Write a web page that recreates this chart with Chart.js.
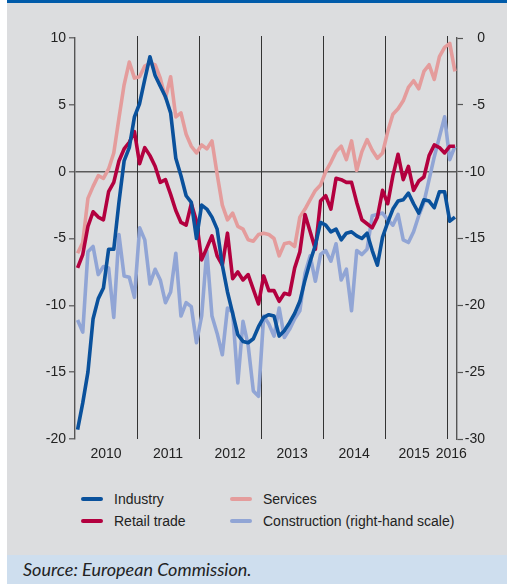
<!DOCTYPE html>
<html>
<head>
<meta charset="utf-8">
<script src="https://cdn.jsdelivr.net/npm/chart.js@4.4.1/dist/chart.umd.min.js"></script>
<style>
    html, body { margin: 0; padding: 0; background: #fff; }
    #page { position: relative; width: 507px; height: 584px; overflow: hidden; font-family: 'Liberation Sans', Arial, sans-serif; }
    #panel { position: absolute; left: 7px; top: 0; width: 500px; height: 555px; background: #dcdddf; border-top: 3px solid #005baa; box-sizing: border-box; }
    #wrap { position: absolute; left: 7px; top: 3px; width: 500px; height: 480px; }
    .item { position: absolute; font-size: 14px; color: #222; line-height: 16px; }
    .item i { position: absolute; left: -33px; top: 6px; width: 22px; height: 4px; border-radius: 2px; }
    #source { position: absolute; left: 7px; top: 555px; width: 500px; height: 29px; background: #cedeee; }
    #source span { position: absolute; left: 16px; top: 3px; font: italic 18px Lato, 'Open Sans', sans-serif; color: #222; }
</style>
</head>
<body>
<div id="page">
    <div id="panel"></div>
    <div id="wrap"><canvas id="grafico" width="500" height="480"></canvas></div>
    <div id="legenda"></div>
    <div id="source"><span>Source: European Commission.</span></div>
</div>
<script>
// monthly, Jan 2010 .. Feb 2016
const industry = [-19.3, -17.3, -15.0, -11.0, -9.5, -8.7, -5.8, -5.8, -2.3, 0.8, 1.8, 4.1,
    5.1, 6.9, 8.6, 7.2, 6.4, 5.6, 4.4, 1.0, -0.3, -1.8, -2.3, -5.0,
    -2.5, -2.8, -3.4, -4.3, -7.0, -9.0, -10.6, -12.2, -12.7, -12.8, -12.5, -11.6,
    -10.9, -10.7, -10.8, -12.3, -11.9, -11.3, -10.6, -9.7, -8.1, -6.7, -5.5, -3.8,
    -4.0, -4.5, -4.3, -5.1, -4.6, -4.5, -4.8, -5.0, -4.6, -5.9, -7.0, -4.9,
    -3.8, -2.8, -2.2, -2.1, -1.6, -2.4, -3.1, -2.1, -2.2, -2.7, -1.5, -1.5,
    -3.7, -3.4]

const retail = [-7.2, -6.2, -4.1, -3.0, -3.4, -3.6, -1.5, -0.8, 0.8, 1.7, 2.2, 3.0,
    0.6, 1.8, 1.2, 0.4, -0.8, -0.6, -1.7, -2.9, -3.8, -4.0, -2.4, -3.7,
    -6.6, -5.7, -4.8, -6.3, -7.0, -4.6, -8.0, -7.5, -8.1, -7.7, -8.8, -9.9,
    -7.8, -8.9, -8.9, -9.7, -9.1, -9.2, -7.2, -6.0, -3.2, -4.5, -5.8, -2.2,
    -1.8, -2.8, -0.5, -0.6, -0.8, -0.8, -2.3, -3.6, -3.9, -4.2, -3.4, -1.4,
    -2.4, -0.3, 1.3, -0.6, 0.4, -1.4, -0.7, -0.4, 1.2, 2.0, 1.8, 1.4,
    1.9, 1.9]

const services = [-6.1, -5.3, -2.0, -1.1, -0.3, -0.5, 0.2, 1.4, 4.0, 6.5, 8.2, 7.0,
    7.1, 7.9, 8.1, 8.0, 7.0, 5.5, 7.1, 4.1, 4.4, 2.8, 1.9, 1.4,
    2.0, 1.7, 2.3, -0.2, -2.5, -3.6, -3.1, -4.1, -4.3, -5.1, -5.2, -4.7,
    -4.6, -4.7, -5.0, -6.3, -5.4, -5.3, -5.6, -3.4, -2.8, -2.1, -1.4, -1.0,
    0.0, 0.7, 1.5, 1.9, 0.9, 2.3, 0.1, 1.5, 2.4, 1.6, 1.0, 1.4,
    3.0, 4.3, 4.7, 5.3, 6.3, 6.8, 6.2, 7.5, 8.0, 6.9, 8.6, 9.3,
    9.6, 7.5]

// right-hand scale
const construction = [-21.1, -22.0, -16.0, -15.6, -17.7, -17.1, -17.2, -20.9, -14.7, -17.8, -17.9, -19.4,
    -14.2, -15.1, -18.4, -17.3, -18.1, -19.8, -19.0, -16.1, -20.8, -19.8, -20.1, -22.8,
    -20.8, -15.9, -20.8, -22.1, -23.7, -20.2, -20.5, -25.8, -21.2, -23.0, -26.4, -26.8,
    -20.8, -21.4, -22.3, -20.2, -22.4, -21.8, -21.0, -20.4, -17.6, -16.3, -18.2, -16.2,
    -15.9, -16.7, -15.4, -18.1, -17.3, -20.4, -15.9, -16.2, -15.8, -13.3, -13.2, -13.1,
    -13.6, -14.0, -13.2, -15.1, -15.3, -14.5, -13.3, -12.3, -10.6, -8.9, -7.4, -5.9,
    -9.1, -8.1]

const years = ['2010', '2011', '2012', '2013', '2014', '2015', '2016']
const yearTicks = [6, 18, 30, 42, 54, 65.6, 72.8]
const yearLines = [12, 24, 36, 48, 60, 72]

const series = [
    { label: 'Industry', data: industry, cor: '#0a519c', eixo: 'y' },
    { label: 'Retail trade', data: retail, cor: '#b3003f', eixo: 'y' },
    { label: 'Services', data: services, cor: '#e49c9c', eixo: 'y' },
    { label: 'Construction (right-hand scale)', data: construction, cor: '#91a5d5', eixo: 'y1' }
]

Chart.defaults.font.family = "'Liberation Sans', Arial, sans-serif"
Chart.defaults.font.size = 14
Chart.defaults.color = '#222'

// vertical lines at the year boundaries
const linhasAno = {
    id: 'linhasAno',
    beforeDatasetsDraw(chart) {
        const { ctx, chartArea, scales } = chart
        ctx.save()
        ctx.strokeStyle = '#333'
        ctx.lineWidth = 1
        yearLines.forEach(v => {
            const x = Math.round(scales.x.getPixelForValue(v)) + 0.5
            ctx.beginPath()
            ctx.moveTo(x, chartArea.top - 2)
            ctx.lineTo(x, chartArea.bottom)
            ctx.stroke()
        })
        ctx.restore()
    }
}

new Chart(document.getElementById('grafico'), {
    type: 'line',
    data: {
        datasets: series.map(s => ({
            label: s.label,
            data: s.data.map((v, i) => ({ x: i + 0.5, y: v })),
            borderColor: s.cor,
            borderWidth: 3.6,
            pointRadius: 0,
            tension: 0,
            borderJoinStyle: 'round',
            yAxisID: s.eixo
        }))
    },
    options: {
        responsive: false,
        animation: false,
        devicePixelRatio: 1,
        layout: { padding: { top: 35, right: 22, left: 0, bottom: 0 } },
        plugins: { legend: { display: false }, tooltip: { enabled: false } },
        scales: {
            x: {
                type: 'linear',
                min: 0,
                max: 73.9,
                afterBuildTicks: axis => { axis.ticks = yearTicks.map(v => ({ value: v })) },
                afterFit: axis => { axis.height = 44 },
                ticks: {
                    autoSkip: false,
                    maxRotation: 0,
                    padding: 7,
                    color: '#222',
                    callback: (v, i) => years[i]
                },
                grid: { display: false, drawTicks: false },
                border: { display: false }
            },
            y: {
                position: 'left',
                min: -20,
                max: 10,
                afterFit: axis => { axis.width = 68 },
                ticks: { stepSize: 5, padding: 3, color: '#222' },
                grid: {
                    drawOnChartArea: true,
                    tickLength: 6,
                    tickColor: '#555',
                    tickWidth: 1.2,
                    color: c => c.tick && c.tick.value === 0 ? '#5a5a5a' : 'rgba(0,0,0,0)',
                    lineWidth: 1.6
                },
                border: { color: '#555', width: 1.4 }
            },
            y1: {
                position: 'right',
                min: -30,
                max: 0,
                afterFit: axis => { axis.width = 28 },
                ticks: { stepSize: 5, padding: 3, color: '#222', crossAlign: 'far' },
                grid: { drawOnChartArea: false, tickLength: 6, tickColor: '#555', tickWidth: 1.2 },
                border: { color: '#555', width: 1.4 }
            }
        }
    },
    plugins: [linhasAno]
})

// legend, two columns
const posLegenda = [[114, 491], [114, 513], [263, 491], [263, 513]]
const legenda = document.getElementById('legenda')
series.forEach((s, i) => {
    const d = document.createElement('div')
    d.className = 'item'
    d.style.left = posLegenda[i][0] + 'px'
    d.style.top = posLegenda[i][1] + 'px'
    d.innerHTML = '<i style="background:' + s.cor + '"></i>' + s.label
    legenda.appendChild(d)
})
</script>
</body>
</html>
